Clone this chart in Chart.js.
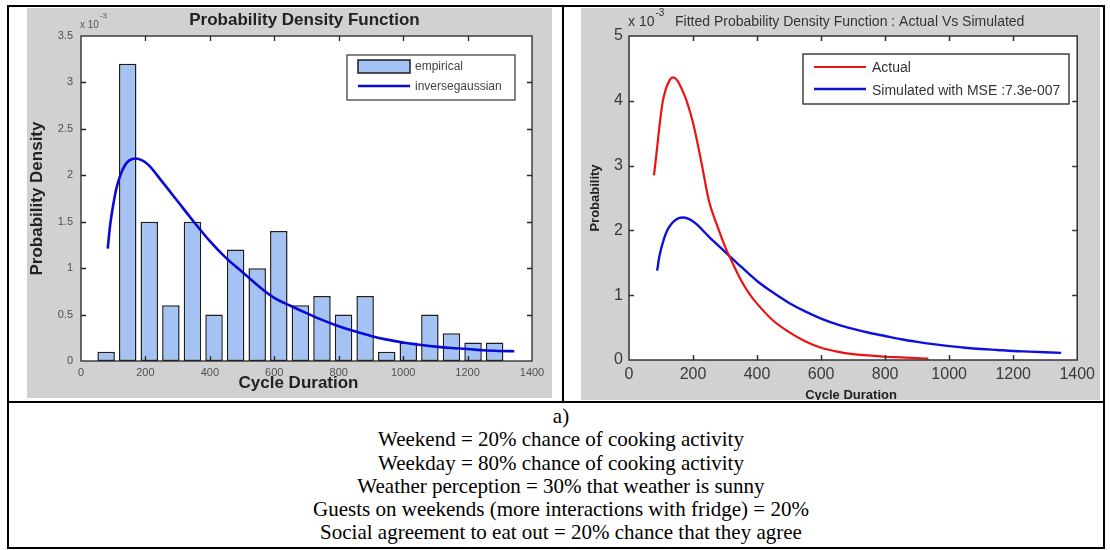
<!DOCTYPE html>
<html>
<head>
<meta charset="utf-8">
<script src="https://cdn.jsdelivr.net/npm/chart.js@4.4.1/dist/chart.umd.min.js"></script>
<style>
html,body{margin:0;padding:0;background:#fff;width:1110px;height:550px;overflow:hidden;}
.ln{position:absolute;background:#000;}
canvas{position:absolute;background:#d1d1d1;}
#caption{position:absolute;left:18px;width:1086px;top:405px;text-align:center;font-family:"Liberation Serif","Times New Roman",serif;font-size:21px;line-height:23.3px;color:#000;}
</style>
</head>
<body>
<div class="ln" style="left:7px;top:5px;width:2px;height:544px"></div>
<div class="ln" style="left:1103px;top:5px;width:2px;height:544px"></div>
<div class="ln" style="left:7px;top:5px;width:1098px;height:2px"></div>
<div class="ln" style="left:7px;top:547px;width:1098px;height:2px"></div>
<div class="ln" style="left:562px;top:5px;width:2px;height:397px"></div>
<div class="ln" style="left:7px;top:401px;width:1098px;height:2px"></div>

<canvas id="c1" width="525" height="390" style="left:27px;top:8px"></canvas>
<canvas id="c2" width="519" height="392" style="left:581px;top:8px"></canvas>

<div id="caption">a)<br>Weekend = 20% chance of cooking activity<br>Weekday = 80% chance of cooking activity<br>Weather perception = 30% that weather is sunny<br>Guests on weekends (more interactions with fridge) = 20%<br>Social agreement to eat out = 20% chance that they agree</div>

<script>
// ---------- DATA (values in units of 10^-3) ----------
const binCenters = [78, 145, 212, 279, 346, 413, 480, 547, 614, 681, 748, 815, 882, 949, 1016, 1083, 1150, 1217, 1284];
const empirical  = [0.1, 3.2, 1.5, 0.6, 1.5, 0.5, 1.2, 1.0, 1.4, 0.6, 0.7, 0.5, 0.7, 0.1, 0.2, 0.5, 0.3, 0.2, 0.2];

const invGaussX = [83, 90, 100, 110, 120, 135, 150, 170, 190, 210, 250, 300, 350, 400, 450, 500, 550, 600, 650, 700, 750, 800, 850, 900, 950, 1000, 1050, 1100, 1150, 1200, 1250, 1300, 1345];
const invGaussY = [1.21, 1.45, 1.68, 1.86, 1.98, 2.10, 2.16, 2.18, 2.16, 2.11, 1.94, 1.72, 1.50, 1.29, 1.11, 0.96, 0.81, 0.68, 0.595, 0.515, 0.44, 0.375, 0.32, 0.27, 0.23, 0.20, 0.175, 0.155, 0.14, 0.13, 0.115, 0.108, 0.105];

const actualX = [78, 85, 95, 105, 115, 125, 137, 150, 165, 180, 200, 225, 250, 275, 300, 325, 350, 375, 400, 450, 500, 550, 600, 650, 700, 750, 800, 850, 900, 935];
const actualY = [2.85, 3.15, 3.6, 3.98, 4.18, 4.3, 4.36, 4.32, 4.18, 4.0, 3.66, 3.08, 2.45, 2.08, 1.75, 1.48, 1.23, 1.03, 0.87, 0.61, 0.43, 0.29, 0.19, 0.13, 0.09, 0.07, 0.05, 0.04, 0.03, 0.02];

const simX = [88, 95, 105, 115, 125, 140, 155, 170, 190, 210, 250, 300, 350, 400, 450, 500, 550, 600, 650, 700, 750, 800, 850, 900, 950, 1000, 1050, 1100, 1150, 1200, 1250, 1300, 1350];
const simY = [1.38, 1.6, 1.8, 1.95, 2.05, 2.14, 2.19, 2.2, 2.17, 2.1, 1.9, 1.67, 1.44, 1.22, 1.04, 0.88, 0.75, 0.64, 0.55, 0.48, 0.42, 0.37, 0.32, 0.28, 0.245, 0.215, 0.19, 0.17, 0.155, 0.14, 0.13, 0.12, 0.11];

const xTickStep = 200;
const leftYTickStep = 0.5;
const rightYTickStep = 1;

const leftTitle = 'Probability Density Function';
const rightTitle = 'Fitted Probability Density Function : Actual Vs Simulated';
const xAxisTitle = 'Cycle Duration';
const leftYTitle = 'Probability Density';
const rightYTitle = 'Probability';
const exponentBase = 'x 10';
const exponentPow = '-3';

// ---------- STYLE ----------
const SANS = '"Liberation Sans", Arial, sans-serif';
const pts = (xs, ys) => xs.map((x, i) => ({x, y: ys[i]}));

const matlabAxes = {
  id: 'matlabAxes',
  beforeDraw(chart) {
    const {ctx, chartArea: a} = chart;
    ctx.save();
    ctx.fillStyle = '#ffffff';
    ctx.fillRect(a.left, a.top, a.width, a.height);
    ctx.restore();
  },
  afterDraw(chart, args, o) {
    const {ctx, chartArea: a, scales} = chart;
    const L = o.tickLen;
    ctx.save();
    ctx.strokeStyle = o.color;
    ctx.lineWidth = o.width;
    ctx.strokeRect(a.left, a.top, a.width, a.height);
    ctx.beginPath();
    scales.x.ticks.forEach(t => {
      const p = Math.round(scales.x.getPixelForValue(t.value)) + 0.5;
      if (p <= a.left + 2 || p >= a.right - 2) return;
      ctx.moveTo(p, a.bottom); ctx.lineTo(p, a.bottom - L);
      ctx.moveTo(p, a.top); ctx.lineTo(p, a.top + L);
    });
    scales.y.ticks.forEach(t => {
      const p = Math.round(scales.y.getPixelForValue(t.value)) + 0.5;
      if (p <= a.top + 2 || p >= a.bottom - 2) return;
      ctx.moveTo(a.left, p); ctx.lineTo(a.left + L, p);
      ctx.moveTo(a.right, p); ctx.lineTo(a.right - L, p);
    });
    ctx.stroke();

    (o.texts || []).forEach(t => {
      ctx.save();
      ctx.font = t.font;
      ctx.fillStyle = t.color;
      ctx.textAlign = t.align || 'center';
      ctx.textBaseline = 'middle';
      ctx.translate(t.x, t.y);
      ctx.fillText(t.text, 0, 0);
      ctx.restore();
    });
    if (o.exp) {
      const e = o.exp;
      ctx.font = e.font; ctx.fillStyle = e.color; ctx.textAlign = 'left'; ctx.textBaseline = 'middle';
      ctx.fillText(exponentBase, e.x, e.y);
      const w = ctx.measureText(exponentBase).width;
      ctx.font = e.supFont;
      ctx.fillText(exponentPow, e.x + w + 1, e.supY);
    }
    if (o.legend) {
      const lg = o.legend;
      ctx.fillStyle = '#ffffff';
      ctx.fillRect(lg.box[0], lg.box[1], lg.box[2], lg.box[3]);
      ctx.strokeStyle = lg.borderColor; ctx.lineWidth = lg.borderWidth;
      ctx.strokeRect(lg.box[0], lg.box[1], lg.box[2], lg.box[3]);
      lg.items.forEach(it => {
        const ds = chart.data.datasets[it.ds];
        if (it.kind === 'patch') {
          ctx.fillStyle = ds.backgroundColor;
          ctx.fillRect(it.sx, it.sy - it.sh / 2, it.sw, it.sh);
          ctx.strokeStyle = ds.borderColor; ctx.lineWidth = ds.borderWidth;
          ctx.strokeRect(it.sx, it.sy - it.sh / 2, it.sw, it.sh);
        } else {
          ctx.strokeStyle = ds.borderColor; ctx.lineWidth = ds.borderWidth;
          ctx.beginPath(); ctx.moveTo(it.sx, it.sy); ctx.lineTo(it.sx + it.sw, it.sy); ctx.stroke();
        }
        ctx.font = lg.font; ctx.fillStyle = lg.color; ctx.textAlign = 'left'; ctx.textBaseline = 'middle';
        ctx.fillText(ds.label, it.tx, it.ty);
      });
    }
    ctx.restore();
  }
};

const fmt = v => String(+(+v).toFixed(2));

// ---------- LEFT CHART ----------
new Chart(document.getElementById('c1'), {
  type: 'bar',
  data: {
    datasets: [
      { type: 'line', label: 'inversegaussian', data: pts(invGaussX, invGaussY),
        borderColor: '#0a0ad8', borderWidth: 2.6, pointRadius: 0, cubicInterpolationMode: 'monotone', order: 0 },
      { type: 'bar', label: 'empirical', data: pts(binCenters, empirical),
        backgroundColor: '#a4c2f4', borderColor: '#1e1e1e', borderWidth: 1.5, borderSkipped: false,
        barPercentage: 0.81, categoryPercentage: 1, order: 1 }
    ]
  },
  options: {
    responsive: false, animation: false, devicePixelRatio: 1,
    layout: { padding: { left: 0, right: 20, top: 28, bottom: 0 } },
    plugins: {
      legend: { display: false }, tooltip: { enabled: false },
      matlabAxes: {
        color: '#262626', width: 1.3, tickLen: 5,
        texts: [
          { text: leftTitle, x: 277.5, y: 12, font: 'bold 17px ' + SANS, color: '#222' },
          { text: xAxisTitle, x: 271.5, y: 375, font: 'bold 17px ' + SANS, color: '#222' }
        ],
        exp: { x: 53, y: 17, supY: 8, font: '10px ' + SANS, supFont: '8px ' + SANS, color: '#555' },
        legend: {
          box: [320, 47, 168, 45], borderColor: '#333', borderWidth: 1.2,
          font: '12px ' + SANS, color: '#444',
          items: [
            { ds: 1, kind: 'patch', sx: 331, sy: 58.5, sw: 52, sh: 13, tx: 388, ty: 59 },
            { ds: 0, kind: 'line', sx: 331, sy: 78, sw: 52, tx: 388, ty: 79 }
          ]
        }
      }
    },
    scales: {
      x: { type: 'linear', min: 0, max: 1400, offset: false,
        ticks: { stepSize: xTickStep, padding: 5, autoSkip: false, maxRotation: 0, callback: fmt, color: '#505050', font: { family: SANS, size: 11 } },
        grid: { display: false, drawTicks: false }, border: { display: false },
        afterFit(s) { s.height = 37; } },
      y: { type: 'linear', min: 0, max: 3.5,
        ticks: { stepSize: leftYTickStep, padding: 8, callback: fmt, color: '#505050', font: { family: SANS, size: 11 } },
        grid: { display: false, drawTicks: false }, border: { display: false },
        title: { display: true, text: leftYTitle, color: '#222', font: { family: SANS, size: 17, weight: 'bold' }, padding: { top: 0, bottom: 0 } },
        afterFit(s) { s.width = 54; } }
    }
  },
  plugins: [matlabAxes]
});

// ---------- RIGHT CHART ----------
new Chart(document.getElementById('c2'), {
  type: 'line',
  data: {
    datasets: [
      { label: 'Actual', data: pts(actualX, actualY), borderColor: '#ee1111', borderWidth: 2.2,
        pointRadius: 0, cubicInterpolationMode: 'monotone' },
      { label: 'Simulated with MSE :7.3e-007', data: pts(simX, simY), borderColor: '#1010dd', borderWidth: 2.4,
        pointRadius: 0, cubicInterpolationMode: 'monotone' }
    ]
  },
  options: {
    responsive: false, animation: false, devicePixelRatio: 1,
    layout: { padding: { left: 0, right: 21, top: 28, bottom: 0 } },
    plugins: {
      legend: { display: false }, tooltip: { enabled: false },
      matlabAxes: {
        color: '#333', width: 1.5, tickLen: 5,
        texts: [
          { text: rightTitle, x: 94, y: 14, align: 'left', font: '14px ' + SANS, color: '#333' },
          { text: xAxisTitle, x: 270, y: 387, font: 'bold 13px ' + SANS, color: '#222' }
        ],
        exp: { x: 47, y: 14, supY: 5, font: '14px ' + SANS, supFont: '10px ' + SANS, color: '#333' },
        legend: {
          box: [222, 46, 266, 50], borderColor: '#333', borderWidth: 1.4,
          font: '14px ' + SANS, color: '#333',
          items: [
            { ds: 0, kind: 'line', sx: 233, sy: 59, sw: 52, tx: 291, ty: 60 },
            { ds: 1, kind: 'line', sx: 233, sy: 81, sw: 52, tx: 291, ty: 83 }
          ]
        }
      }
    },
    scales: {
      x: { type: 'linear', min: 0, max: 1400, offset: false,
        ticks: { stepSize: xTickStep, padding: 5, autoSkip: false, maxRotation: 0, callback: fmt, color: '#3a3a3a', font: { family: SANS, size: 16 } },
        grid: { display: false, drawTicks: false }, border: { display: false },
        afterFit(s) { s.height = 40; } },
      y: { type: 'linear', min: 0, max: 5,
        ticks: { stepSize: rightYTickStep, padding: 6, callback: fmt, color: '#3a3a3a', font: { family: SANS, size: 16 } },
        grid: { display: false, drawTicks: false }, border: { display: false },
        title: { display: true, text: rightYTitle, color: '#222', font: { family: SANS, size: 13, weight: 'bold' }, padding: { top: 7, bottom: 0 } },
        afterFit(s) { s.width = 48; } }
    }
  },
  plugins: [matlabAxes]
});
</script>
</body>
</html>
